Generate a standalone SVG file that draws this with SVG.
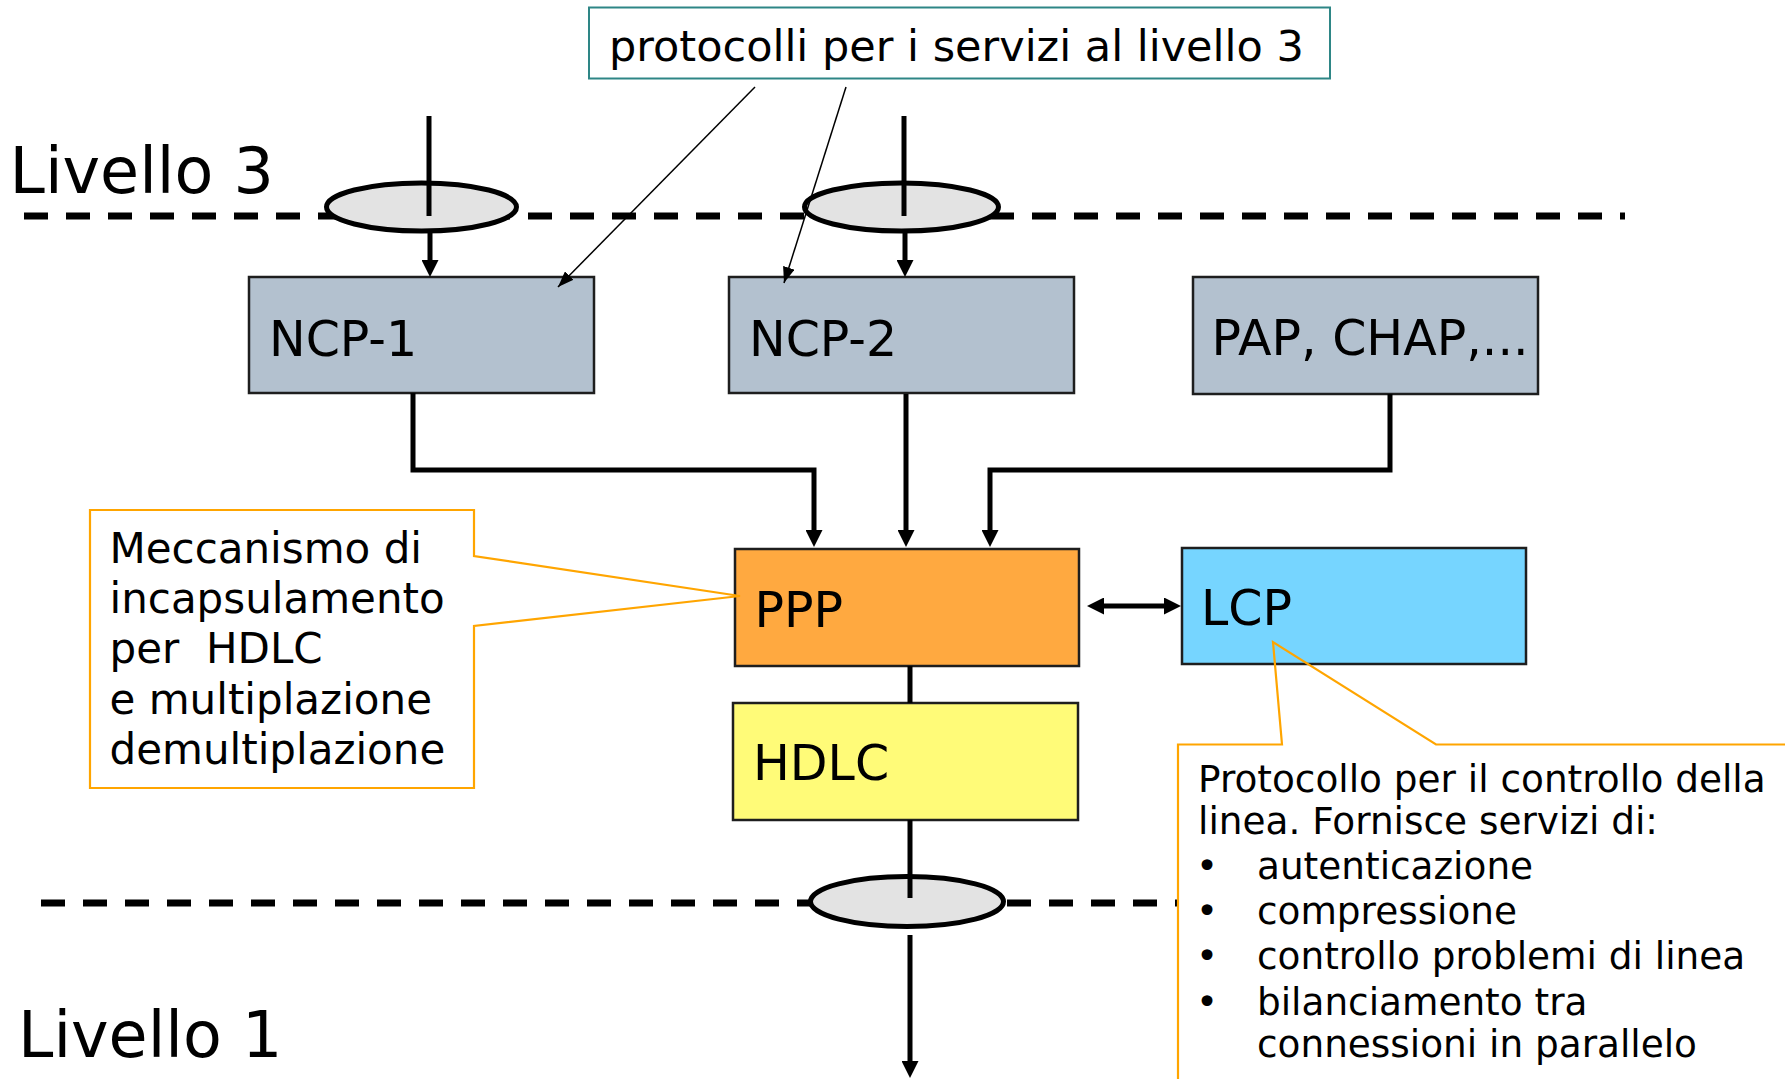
<svg xmlns="http://www.w3.org/2000/svg" width="1785" height="1079" viewBox="0 0 1785 1079">
<style>
text{font-family:"DejaVu Sans","Verdana",sans-serif;fill:#000}
.lvl{font-size:63.5px}
.bx{font-size:49px}
.box{stroke:#1e1e1e;stroke-width:2.5}
.ncp{fill:#b3c1cf}
.dash{stroke:#000;stroke-width:7;stroke-dasharray:24 18;fill:none}
.ell{fill:#e3e3e3;stroke:#000;stroke-width:5}
.thick{stroke:#000;stroke-width:5;fill:none}
.thin{stroke:#000;stroke-width:1.5;fill:none}
.call{fill:none;stroke:#ffa500;stroke-width:2.2}
.ct{font-size:42px}
.rt{font-size:37.4px}
</style>
<defs>
<marker id="ah" markerUnits="userSpaceOnUse" markerWidth="17" markerHeight="17" refX="9" refY="8.5" orient="auto"><path d="M0,0 L17,8.5 L0,17 z" fill="#000"/></marker>
<marker id="ah2" markerUnits="userSpaceOnUse" markerWidth="17" markerHeight="17" refX="9" refY="8.5" orient="auto-start-reverse"><path d="M0,0 L17,8.5 L0,17 z" fill="#000"/></marker>
<marker id="at" markerUnits="userSpaceOnUse" markerWidth="16" markerHeight="12" refX="16" refY="6" orient="auto"><path d="M0,0 L16,6 L0,12 z" fill="#000"/></marker>
</defs>
<rect width="1785" height="1079" fill="#fff"/>

<g id="levels">
<text class="lvl" x="9.5" y="193">Livello 3</text>
<text class="lvl" x="18" y="1057">Livello 1</text>
<line class="dash" x1="24" y1="216" x2="1625" y2="216"/>
<line class="dash" x1="41" y1="903" x2="1179" y2="903"/>
</g>

<g id="sap1"><ellipse class="ell" cx="421.5" cy="207" rx="95" ry="24"/></g>
<g id="sap2"><ellipse class="ell" cx="901.5" cy="207" rx="97" ry="24"/></g>
<g id="sap3"><ellipse class="ell" cx="907" cy="901.5" rx="96.5" ry="25"/></g>

<g id="ncp1"><rect class="box ncp" x="249" y="277" width="345" height="116"/><text class="bx" x="269" y="356">NCP-1</text></g>
<g id="ncp2"><rect class="box ncp" x="729" y="277" width="345" height="116"/><text class="bx" x="749" y="356">NCP-2</text></g>
<g id="pap"><rect class="box ncp" x="1193" y="277" width="345" height="117"/><text class="bx" x="1211.5" y="355">PAP, CHAP,...</text></g>
<g id="ppp"><rect class="box" fill="#ffa940" x="735" y="549" width="344" height="117"/><text class="bx" x="754.5" y="627">PPP</text></g>
<g id="hdlc"><rect class="box" fill="#fffb78" x="733" y="703" width="345" height="117"/><text class="bx" x="753" y="780">HDLC</text></g>
<g id="lcp"><rect class="box" fill="#76d5ff" x="1182" y="548" width="344" height="116"/><text class="bx" x="1201" y="625">LCP</text></g>

<g id="note-top">
<rect x="589" y="7.5" width="741" height="71" fill="#fff" stroke="#2e8686" stroke-width="2"/>
<text x="609" y="61" style="font-size:43px">protocolli per i servizi al livello 3</text>
</g>

<g id="note-left">
<path class="call" d="M474,556 L474,510 L90,510 L90,788 L474,788 L474,626 L740,596 Z"/>
<text class="ct" x="109.5" y="563">Meccanismo di</text>
<text class="ct" x="109.5" y="613">incapsulamento</text>
<text class="ct" x="109.5" y="663" xml:space="preserve">per  HDLC</text>
<text class="ct" x="109.5" y="714">e multiplazione</text>
<text class="ct" x="109.5" y="764">demultiplazione</text>
</g>

<g id="note-lcp">
<path class="call" d="M1178,1090 L1178,744.5 L1282,744.5 L1273,642 L1436,744.5 L1795,744.5"/>
<text class="rt" x="1198" y="792">Protocollo per il controllo della</text>
<text class="rt" x="1198" y="834">linea. Fornisce servizi di:</text>
<text class="rt" x="1196" y="879">•</text><text class="rt" x="1257" y="879">autenticazione</text>
<text class="rt" x="1196" y="924">•</text><text class="rt" x="1257" y="924">compressione</text>
<text class="rt" x="1196" y="969">•</text><text class="rt" x="1257" y="969">controllo problemi di linea</text>
<text class="rt" x="1196" y="1015">•</text><text class="rt" x="1257" y="1015">bilanciamento tra</text>
<text class="rt" x="1257" y="1057">connessioni in parallelo</text>
</g>

<g id="connectors">
<line class="thick" x1="429" y1="116" x2="429" y2="216"/>
<line class="thick" x1="904" y1="116" x2="904" y2="216"/>
<line class="thick" x1="430" y1="232" x2="430" y2="269" marker-end="url(#ah)"/>
<line class="thick" x1="905" y1="232" x2="905" y2="269" marker-end="url(#ah)"/>
<polyline class="thick" points="413,393 413,470 814,470 814,539" marker-end="url(#ah)"/>
<line class="thick" x1="906" y1="394" x2="906" y2="539" marker-end="url(#ah)"/>
<polyline class="thick" points="1390,394 1390,470 990,470 990,539" marker-end="url(#ah)"/>
<line class="thick" x1="1095" y1="606" x2="1173" y2="606" marker-start="url(#ah2)" marker-end="url(#ah2)"/>
<line class="thick" x1="910" y1="666" x2="910" y2="703"/>
<line class="thick" x1="910" y1="820" x2="910" y2="898"/>
<line class="thick" x1="910" y1="935" x2="910" y2="1070" marker-end="url(#ah)"/>
<line class="thin" x1="755" y1="87" x2="558" y2="287" marker-end="url(#at)"/>
<line class="thin" x1="846" y1="87" x2="784" y2="283" marker-end="url(#at)"/>
</g>
</svg>
